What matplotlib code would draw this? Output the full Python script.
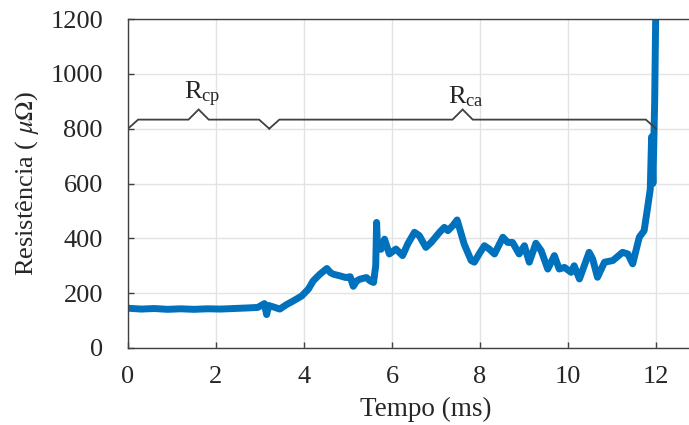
import numpy as np
import matplotlib.pyplot as plt

plt.rcParams['font.family'] = ['Liberation Serif', 'DejaVu Serif']
plt.rcParams['mathtext.fontset'] = 'stix'

# Curva de resistência (tempo em ms, resistência em µΩ)
tempo_ms = [0.0, 0.3, 0.6, 0.9, 1.2, 1.5, 1.8, 2.1, 2.4, 2.7, 2.95, 3.1, 3.15,
            3.2, 3.3, 3.45, 3.6, 3.76, 3.95, 4.1, 4.21, 4.36, 4.52, 4.6, 4.67,
            4.82, 4.95, 5.05, 5.12, 5.2, 5.27, 5.42, 5.5, 5.58, 5.63, 5.65,
            5.67, 5.75, 5.83, 5.94, 6.09, 6.24, 6.36, 6.51, 6.62, 6.77, 6.89,
            7.08, 7.19, 7.27, 7.38, 7.48, 7.53, 7.64, 7.80, 7.87, 7.98, 8.10,
            8.21, 8.33, 8.52, 8.63, 8.74, 8.89, 9.01, 9.12, 9.27, 9.39, 9.54,
            9.69, 9.80, 9.92, 10.07, 10.14, 10.26, 10.48, 10.56, 10.67, 10.83,
            11.02, 11.24, 11.36, 11.47, 11.62, 11.73, 11.81, 11.87, 11.90,
            11.93, 11.97, 12.0]
resistencia = [145, 142, 144, 141, 143, 141, 143, 142, 144, 146, 148, 162, 122,
               155, 150, 142, 158, 172, 190, 215, 245, 269, 290, 275, 269,
               263, 257, 260, 225, 245, 251, 257, 245, 239, 300, 458,
               367, 360, 397, 343, 361, 337, 380, 422, 410, 367, 385,
               422, 440, 428, 446, 467, 440, 379, 319, 313, 343, 373,
               361, 343, 404, 385, 385, 343, 373, 313, 382, 355, 288,
               337, 288, 294, 276, 300, 252, 349, 325, 258, 313,
               319, 349, 343, 307, 404, 428, 513, 580, 770,
               600, 900, 1300]

# Chaves (início, fim, rótulo)
chave_inicio = [0.0, 3.21]
chave_fim = [3.21, 12.0]
chave_rotulo = [r'$\mathregular{R_{cp}}$', r'$\mathregular{R_{ca}}$']
nivel_chave = 800


def desenha_chave(ax, a, b, y0, cor='#404040'):
    # chave horizontal com ponta para cima no centro
    h = 33
    tip = 70
    w = 0.23
    m = (a + b) / 2
    xs = [a, a + w, m - w, m, m + w, b - w, b]
    ys = [y0, y0 + h, y0 + h, y0 + tip, y0 + h, y0 + h, y0]
    ax.plot(xs, ys, color=cor, lw=1.3, solid_joinstyle='miter', zorder=3)
    return m


fig = plt.figure(figsize=(6.89, 4.25), dpi=100)
ax = fig.add_axes([128 / 689, 77 / 425, 561 / 689, 329 / 425])

ax.plot(tempo_ms, resistencia, color='#0072BD', lw=5.0, zorder=2,
        solid_joinstyle='round')

for a, b, rot in zip(chave_inicio, chave_fim, chave_rotulo):
    m = desenha_chave(ax, a, b, nivel_chave)
    ax.text(m + 0.08, nivel_chave + 70, rot, ha='center', va='bottom',
            fontsize=19, color='#262626')

ax.set_xlim(0, 12.75)
ax.set_ylim(0, 1200)
ax.set_xticks(np.arange(0, 13, 2))
ax.set_yticks(np.arange(0, 1201, 200))
ax.grid(True, color='#e3e3e3', lw=1.0)
ax.set_axisbelow(True)

for s in ['left', 'bottom', 'top']:
    ax.spines[s].set_color('#404040')
    ax.spines[s].set_linewidth(1.0)
ax.spines['right'].set_visible(False)

ax.tick_params(direction='in', length=4, width=1, colors='#404040',
               labelsize=19, labelcolor='#262626', top=False)
ax.tick_params(axis='y', pad=18)
ax.tick_params(axis='x', pad=13)

ax.set_xlabel('Tempo (ms)', fontsize=19.5, color='#262626')
ax.xaxis.set_label_coords(0.53, -0.148)
ax.set_ylabel(r'Resistência ( $\mu\Omega$)', fontsize=19, color='#262626')
ax.yaxis.set_label_coords(-0.155, 0.5)

fig.savefig('out.png', dpi=100)
